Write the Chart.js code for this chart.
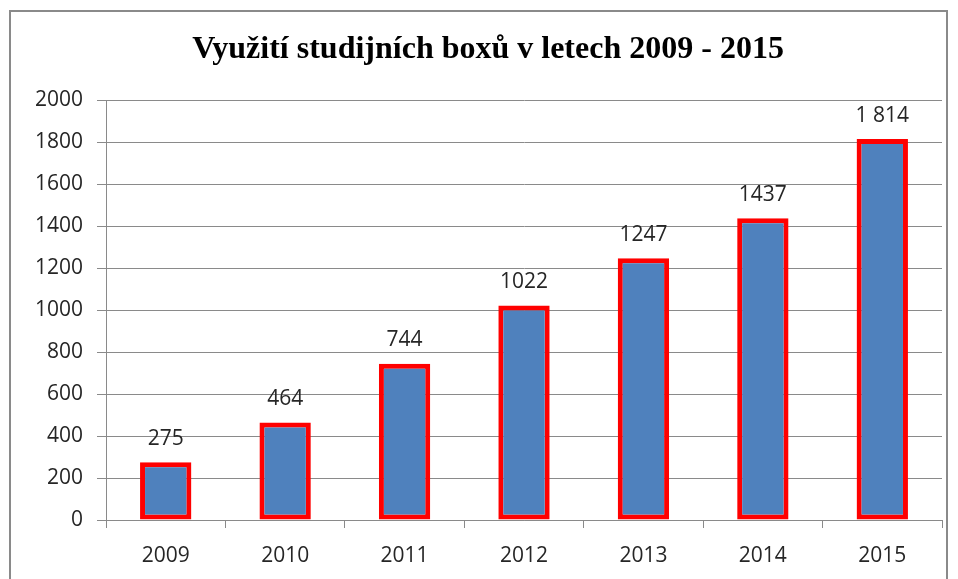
<!DOCTYPE html>
<html>
<head>
<meta charset="utf-8">
<script src="https://cdn.jsdelivr.net/npm/chart.js@4.4.1/dist/chart.umd.min.js"></script>
<style>
html,body{margin:0;padding:0;background:#fff;}
#wrap{position:relative;width:958px;height:579px;overflow:hidden;}
#frame{position:absolute;left:9px;top:10px;width:939px;height:600px;border:2px solid #8a8a8a;box-sizing:border-box;pointer-events:none;}
</style>
</head>
<body>
<div id="wrap">
<canvas id="chart" width="958" height="579"></canvas>
<div id="frame"></div>
</div>
<script>

/* DATA */

let years = ["2009","2010","2011","2012","2013","2014","2015"];
let boxUsage = [275, 464, 744, 1022, 1247, 1437, 1814];
let valueLabels = ["275","464","744","1022","1247","1437","1 814"];
let yTicks = [0, 200, 400, 600, 800, 1000, 1200, 1400, 1600, 1800, 2000];

let titleText = "Využití studijních boxů v letech 2009 - 2015";


/* TITLE + VALUE LABELS */

let barLabels = {
id:"barLabels",
afterDatasetsDraw(chart){
let ctx = chart.ctx;
let meta = chart.getDatasetMeta(0);
ctx.save();
ctx.font = "21px 'Open Sans'";
ctx.fillStyle = "#262626";
ctx.textAlign = "center";
ctx.textBaseline = "bottom";
meta.data.forEach((bar,i)=>{
ctx.fillText(valueLabels[i], bar.x, bar.y - 13);
});
ctx.restore();
},
afterDraw(chart){
let ctx = chart.ctx;
ctx.save();
ctx.font = "bold 32px 'Liberation Serif'";
ctx.fillStyle = "#000";
ctx.textAlign = "center";
ctx.textBaseline = "alphabetic";
ctx.fillText(titleText, 488, 58);
ctx.restore();
}
};


/* CHART */

let ctx = document.getElementById("chart").getContext("2d");

new Chart(ctx,{

type:"bar",

data:{
labels:years,
datasets:[{
data:boxUsage,
backgroundColor:"#4f81bd",
borderColor:"#ff0000",
borderWidth:5,
borderSkipped:false,
categoryPercentage:1,
barPercentage:0.43
}]
},

options:{
responsive:false,
animation:false,
layout:{padding:{left:0,right:16,top:100,bottom:0}},
plugins:{
legend:{display:false},
tooltip:{enabled:false},
title:{display:false}
},
scales:{
x:{
afterFit(scale){ scale.height = 59; },
grid:{display:true,drawOnChartArea:false,color:"#8a8a8a",tickLength:8,offset:true},
border:{color:"#8a8a8a"},
ticks:{color:"#262626",font:{family:"'Open Sans'",size:21},padding:15}
},
y:{
min:0,
max:2000,
afterFit(scale){ scale.width = 106; },
afterBuildTicks(scale){ scale.ticks = yTicks.map(v=>({value:v})); },
grid:{color:"#8a8a8a",tickLength:9},
border:{color:"#8a8a8a"},
ticks:{
color:"#262626",
font:{family:"'Open Sans'",size:21},
padding:14,
callback:(value)=>String(value)
}
}
}
},

plugins:[barLabels]

});

</script>
</body>
</html>
